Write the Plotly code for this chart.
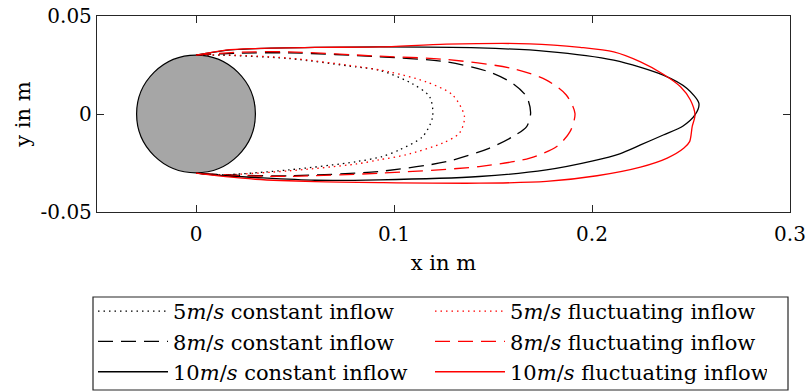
import plotly.graph_objects as go

# ---- data ----
c5_x = [0, 0.013, 0.047, 0.081, 0.0925, 0.109, 0.118, 0.1195, 0.1145, 0.1027, 0.094, 0.081, 0.047, 0.013, 0]
c5_y = [0.030, 0.030, 0.0283, 0.024, 0.0224, 0.0156, 0.0088, -0.0014, -0.0115, -0.0183, -0.0217, -0.0243, -0.0285, -0.031, -0.0302]

f5_x = [0, 0.013, 0.047, 0.081, 0.0976, 0.1163, 0.1296, 0.1356, 0.133, 0.1245, 0.106, 0.0925, 0.081, 0.047, 0.013, 0]
f5_y = [0.030, 0.0302, 0.0285, 0.0243, 0.0215, 0.0164, 0.0097, -0.0014, -0.0098, -0.0149, -0.0208, -0.0234, -0.0255, -0.029, -0.031, -0.0302]

c8_x = [0, 0.02, 0.047, 0.0925, 0.1265, 0.148, 0.16, 0.167, 0.169, 0.167, 0.16, 0.148, 0.1265, 0.0925, 0.047, 0.02, 0]
c8_y = [0.030, 0.031, 0.0312, 0.0292, 0.0266, 0.0215, 0.0156, 0.0088, 0.0005, -0.0064, -0.0115, -0.0175, -0.0243, -0.0293, -0.0315, -0.0312, -0.0302]

f8_x = [0, 0.02, 0.047, 0.0925, 0.1265, 0.16, 0.177, 0.187, 0.1914, 0.1889, 0.1822, 0.1686, 0.143, 0.0925, 0.047, 0.02, 0]
f8_y = [0.030, 0.0315, 0.0317, 0.0295, 0.0278, 0.0232, 0.0173, 0.0097, 0.0003, -0.009, -0.0166, -0.0225, -0.0268, -0.0302, -0.0318, -0.0314, -0.0302]

c10_x = [0, 0.015, 0.03, 0.06, 0.0925, 0.143, 0.177, 0.211, 0.236, 0.248, 0.254, 0.252, 0.246, 0.236, 0.2245, 0.214, 0.2005, 0.177, 0.143, 0.0925, 0.06, 0.03, 0.015, 0]
c10_y = [0.030, 0.0325, 0.0334, 0.034, 0.0342, 0.0337, 0.032, 0.0275, 0.0198, 0.013, 0.0054, -0.0005, -0.0061, -0.0107, -0.0158, -0.0203, -0.0239, -0.0285, -0.0319, -0.0336, -0.0338, -0.0324, -0.0315, -0.0302]

f10_x = [0, 0.015, 0.03, 0.06, 0.0925, 0.1265, 0.1686, 0.194, 0.211, 0.2245, 0.236, 0.2447, 0.2497, 0.252, 0.2506, 0.2493, 0.2463, 0.238, 0.2245, 0.2025, 0.177, 0.143, 0.0925, 0.06, 0.03, 0.015, 0]
f10_y = [0.030, 0.0326, 0.0334, 0.034, 0.0342, 0.0356, 0.0358, 0.034, 0.0317, 0.0266, 0.0203, 0.0139, 0.0071, -0.0005, -0.0064, -0.0141, -0.0175, -0.0225, -0.0271, -0.0315, -0.0344, -0.0353, -0.035, -0.0345, -0.0333, -0.032, -0.0302]

cyl_radius = 0.03

x_tickvals = [0, 0.1, 0.2, 0.3]
x_ticktext = ["0", "0.1", "0.2", "0.3"]
y_tickvals = [-0.05, 0, 0.05]
y_ticktext = ["-0.05", "0", "0.05"]

names = ["5<i>m</i>/<i>s</i> constant inflow", "5<i>m</i>/<i>s</i> fluctuating inflow",
         "8<i>m</i>/<i>s</i> constant inflow", "8<i>m</i>/<i>s</i> fluctuating inflow",
         "10<i>m</i>/<i>s</i> constant inflow", "10<i>m</i>/<i>s</i> fluctuating inflow"]

DOT = "1.5px,4px"
DASH = "15px,8px"
series = [(c5_x, c5_y, "black", DOT), (f5_x, f5_y, "red", DOT),
          (c8_x, c8_y, "black", DASH), (f8_x, f8_y, "red", DASH),
          (c10_x, c10_y, "black", "solid"), (f10_x, f10_y, "red", "solid")]

FONT = "DejaVu Serif"
W, H = 806, 391
ML, MR, MT, MB = 97, 16, 16, 179
PW, PH = W - ML - MR, H - MT - MB

fig = go.Figure()
for (xs, ys, col, dash), nm in zip(series, names):
    fig.add_trace(go.Scatter(x=xs, y=ys, mode="lines", name=nm,
                             line=dict(color=col, dash=dash, width=1.3, shape="spline", smoothing=0.8)))

fig.add_shape(type="circle", xref="x", yref="y", x0=-cyl_radius, x1=cyl_radius,
              y0=-cyl_radius, y1=cyl_radius, fillcolor="#a6a6a6",
              line=dict(color="black", width=1.2), layer="below")

# legend frame (pixel box converted to paper coordinates)
bx0, bx1, by0, by1 = 93, 788, 297, 390
fig.add_shape(type="rect", xref="paper", yref="paper",
              x0=(bx0 - ML) / PW, x1=(bx1 - ML) / PW,
              y0=(H - MB - by1) / PH, y1=(H - MB - by0) / PH,
              line=dict(color="#262626", width=1.2), fillcolor="rgba(0,0,0,0)")

axis_common = dict(showgrid=False, zeroline=False, showline=True, linecolor="#262626", linewidth=1.3,
                   mirror="ticks", ticks="inside", ticklen=7, tickwidth=1.2, tickcolor="#262626",
                   automargin=False, tickfont=dict(family=FONT, size=20, color="black"))

fig.update_layout(
    width=W, height=H,
    margin=dict(l=ML, r=MR, t=MT, b=MB, autoexpand=False),
    plot_bgcolor="white", paper_bgcolor="white",
    xaxis=dict(range=[-0.05, 0.3], tickvals=x_tickvals, ticktext=x_ticktext, ticklabelstandoff=4,
               title=dict(text="x in m", font=dict(family=FONT, size=21, color="black"), standoff=10),
               **axis_common),
    yaxis=dict(range=[-0.05, 0.05], tickvals=y_tickvals, ticktext=y_ticktext,
               title=dict(text="y in m", font=dict(family=FONT, size=21, color="black"), standoff=4),
               **axis_common),
    showlegend=True,
    legend=dict(orientation="h", xref="container", yref="container", x=93/806, y=1-291/391,
                xanchor="left", yanchor="top", borderwidth=0,
                bgcolor="rgba(0,0,0,0)", font=dict(family=FONT, size=21, color="black"),
                entrywidth=252, entrywidthmode="pixels", itemwidth=70, tracegroupgap=0),
)

fig.write_html("out.html")
